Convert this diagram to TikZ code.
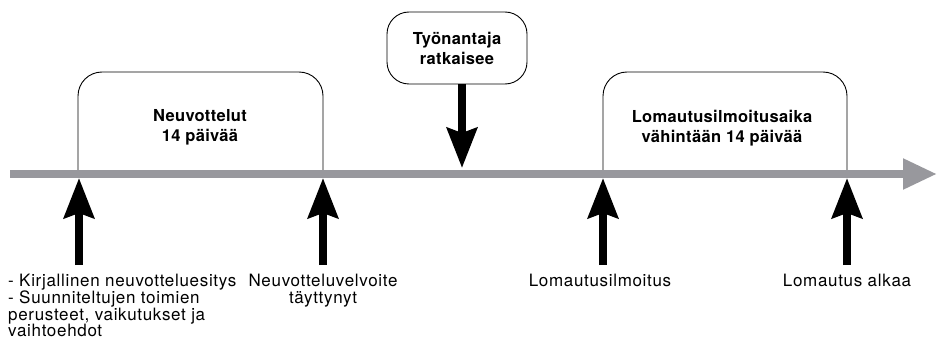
\documentclass[tikz,border=0pt]{standalone}
\usepackage{fontspec}
\setmainfont{TeX Gyre Heros}
\usetikzlibrary{arrows.meta, positioning}
\definecolor{barGray}{RGB}{152,152,157}

\begin{document}
\begin{tikzpicture}[x=1pt, y=-1pt, font=\fontsize{17}{16.8}\selectfont\addfontfeatures{LetterSpace=4},
  period/.style={draw, line width=0.9pt, rounded corners=24pt},
  eventarrow/.style={line width=8pt, -{Stealth[length=40pt, width=30pt, inset=5pt]}},
  eventtext/.style={inner sep=0pt, align=center, anchor=north},
  boxtext/.style={align=center, font=\fontsize{16.5}{20}\selectfont\bfseries\addfontfeatures{LetterSpace=2}}]

\useasboundingbox (0,0) rectangle (937,342);

% points on the time line
\coordinate (tl start) at (10,174);
\coordinate (tl end) at (937,174);
\coordinate (t1) at (79,178);
\coordinate (t2) at (323,178);
\coordinate (t3) at (603,178);
\coordinate (t4) at (847,178);

% the two periods
\draw[period] (78,174) -- (78,72) -- (323,72) -- (323,174);
\draw[period] (603,174) -- (603,72) -- (847,72) -- (847,174);
\node[boxtext] (neuv) at (200,127) {Neuvottelut\\14 päivää};
\node[boxtext] (loma) at (722,128) {Lomautusilmoitusaika\\vähintään 14 päivää};

% time line
\draw[barGray, line width=8pt, -{Triangle[length=34pt, width=29pt]}] (tl start) -- (tl end);

% decision
\node[draw, line width=0.9pt, rounded corners=22pt, minimum width=140pt, minimum height=72pt,
  boxtext] (boss) at (457,48) {Työnantaja\\ratkaisee};
\coordinate (t0) at (462,168);
\draw[eventarrow] ([xshift=5pt]boss.south) -- (t0);

% events below the time line
\node[eventtext, anchor=north west, align=left] (ev1) at (8,274)
  {- Kirjallinen neuvotteluesitys\\- Suunniteltujen toimien\\perusteet, vaikutukset ja\\vaihtoehdot};
\node[eventtext] (ev2) at (323,274) {Neuvotteluvelvoite\\täyttynyt};
\node[eventtext] (ev3) at (600,274) {Lomautusilmoitus};
\node[eventtext] (ev4) at (847,274) {Lomautus alkaa};

\coordinate (b1) at (79,265);
\coordinate (b2) at (323,265);
\coordinate (b3) at (603,265);
\coordinate (b4) at (847,265);
\draw[eventarrow] (b1) -- (t1);
\draw[eventarrow] (b2) -- (t2);
\draw[eventarrow] (b3) -- (t3);
\draw[eventarrow] (b4) -- (t4);

\end{tikzpicture}
\end{document}
